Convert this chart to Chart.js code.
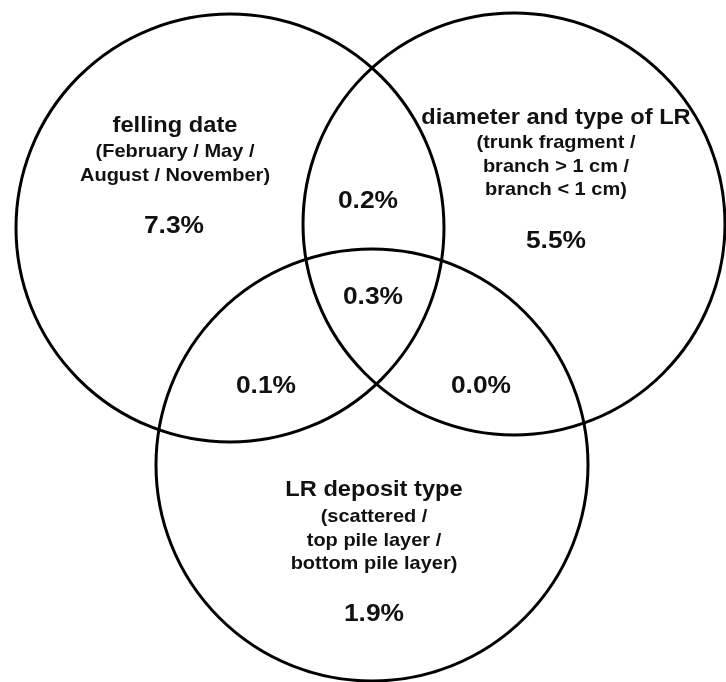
<!DOCTYPE html>
<html>
<head>
<meta charset="utf-8">
<script src="https://cdn.jsdelivr.net/npm/chart.js@4"></script>
<style>
html,body{margin:0;padding:0;background:#fff;}
#wrap{width:726px;height:682px;position:relative;}
</style>
</head>
<body>
<div id="wrap"><canvas id="c"></canvas></div>
<script>
// ---- data ----
const setNames = ['felling date', 'diameter and type of LR', 'LR deposit type'];
const setDetails = [
  ['(February / May /', 'August / November)'],
  ['(trunk fragment /', 'branch > 1 cm /', 'branch < 1 cm)'],
  ['(scattered /', 'top pile layer /', 'bottom pile layer)']
];
const regionNames = ['A only', 'B only', 'C only', 'A∩B', 'A∩C', 'B∩C', 'A∩B∩C'];
const regionValues = [7.3, 5.5, 1.9, 0.2, 0.1, 0.0, 0.3];

// circle geometry (in axis units)
const circleX = [230, 514, 372];
const circleY = [228, 224, 465];
const circleR = [214, 211, 216];

// label anchor points (axis units)
const titleX = [175, 556, 374];
const titleY = [126, 118, 490];
const detailY = [152, 143, 517];
const valueX = [174, 556, 374, 368, 266, 481, 373];
const valueY = [226, 241, 614, 201, 386, 386, 297];

const FONT = '"Liberation Sans", Arial, Helvetica, sans-serif';

// bubbles are big circles here; do not shrink the plot area to fit them
Chart.BubbleController.prototype.getMaxOverflow = function () { return 0; };

const labelPlugin = {
  id: 'vennLabels',
  afterDatasetsDraw(chart) {
    const ctx = chart.ctx, xs = chart.scales.x, ys = chart.scales.y;
    ctx.save();
    ctx.fillStyle = '#111';
    ctx.textAlign = 'center';
    ctx.textBaseline = 'middle';
    const stretch = 1.1;
    const draw = (txt, x, y, size) => {
      ctx.save();
      ctx.translate(xs.getPixelForValue(x), ys.getPixelForValue(y));
      ctx.scale(stretch, 1);
      ctx.font = 'bold ' + size + 'px ' + FONT;
      ctx.fillText(txt, 0, 0);
      ctx.restore();
    };
    setNames.forEach((n, i) => {
      draw(n, titleX[i], titleY[i], 21.5);
      setDetails[i].forEach((line, j) => draw(line, titleX[i], detailY[i] + j * 23.7, 18.2));
    });
    regionValues.forEach((v, i) => draw(v.toFixed(1) + '%', valueX[i], valueY[i], 24));
    ctx.restore();
  }
};

new Chart(document.getElementById('c'), {
  type: 'bubble',
  data: {
    datasets: [{
      label: 'sets',
      data: circleX.map((x, i) => ({ x: x, y: circleY[i], r: circleR[i] })),
      backgroundColor: 'rgba(0,0,0,0)',
      borderColor: '#000',
      borderWidth: 3,
      hoverBorderWidth: 3,
      clip: false
    }]
  },
  options: {
    responsive: true,
    maintainAspectRatio: false,
    animation: false,
    events: [],
    layout: { padding: 0 },
    plugins: { legend: { display: false }, tooltip: { enabled: false } },
    scales: {
      x: { type: 'linear', min: 0, max: 726, display: false },
      y: { type: 'linear', min: 0, max: 682, reverse: true, display: false }
    }
  },
  plugins: [labelPlugin]
});
</script>
</body>
</html>
